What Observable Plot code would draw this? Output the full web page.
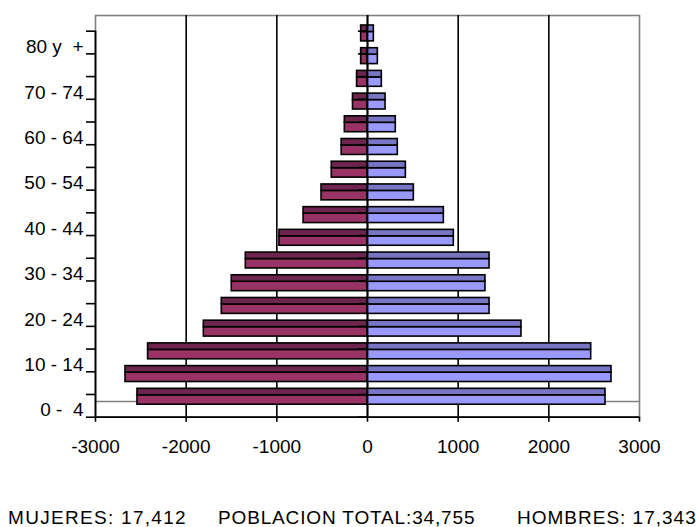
<!DOCTYPE html>
<html>
<head>
<meta charset="utf-8">
<script src="https://cdn.jsdelivr.net/npm/d3@7"></script>
<script src="https://cdn.jsdelivr.net/npm/@observablehq/plot@0.6"></script>
<style>
  body { margin: 0; background: #fff; font-family: "Liberation Sans", Arial, sans-serif; }
  #wrap { width: 696px; height: 527px; position: relative; overflow: hidden; }
  #foot { position: absolute; left: 0; top: 0; width: 696px; height: 527px; pointer-events: none; }
  #foot span { position: absolute; top: 507px; font-size: 19px; color: #000; white-space: pre; }
  svg text { white-space: pre; }
</style>
</head>
<body>
<div id="wrap"><div id="chart"></div><div id="foot"></div></div>
<script>
// Age groups, bottom to top
const ageGroups = ["0 -  4","5 -  9","10 - 14","15 - 19","20 - 24","25 - 29","30 - 34","35 - 39",
  "40 - 44","45 - 49","50 - 54","55 - 59","60 - 64","65 - 69","70 - 74","75 - 79","80 y  +"];
// Women (MUJERES), drawn to the left
const mujeres = [2537, 2669, 2420, 1805, 1607, 1497, 1342, 971, 705, 507, 394, 285, 250, 160, 115, 70, 70];
// Men (HOMBRES), drawn to the right
const hombres = [2625, 2691, 2467, 1698, 1346, 1301, 1346, 952, 842, 511, 423, 334, 312, 199, 158, 114, 70];
const xTicks = [-3000, -2000, -1000, 0, 1000, 2000, 3000];
const gridValues = [-2000, -1000, 0, 1000, 2000];
const labelIndex = [0, 2, 4, 6, 8, 10, 12, 14, 16];
const footer = ["MUJERES: 17,412", "POBLACION TOTAL:34,755", "HOMBRES: 17,343"];

const rows = [];
ageGroups.forEach((g, i) => {
  rows.push({i, group: g, sex: "M", v: -mujeres[i]});
  rows.push({i, group: g, sex: "H", v: hombres[i]});
});
const front = {M: "#993366", H: "#9999ff"};
const top_ = {M: "#6d2550", H: "#7676c4"};

const H = 475;
const chart = Plot.plot({
  width: 696,
  height: H,
  marginLeft: 95,
  marginRight: 57,
  marginTop: 15,
  marginBottom: H - 416.7,
  style: {fontFamily: "'Liberation Sans', Arial, sans-serif", fontSize: "19px", color: "#000", background: "#fff"},
  x: {domain: [-3000, 3000], label: null},
  y: {domain: [0, 17.69], label: null},
  marks: [
    Plot.frame({stroke: "#808080", strokeWidth: 1.6}),
    Plot.ruleY([0.69], {stroke: "#808080", strokeWidth: 1.6}),
    Plot.ruleX(gridValues, {y1: 0, y2: 17.69, stroke: "#000", strokeWidth: 1.6}),
    // bar front faces
    Plot.rectX(rows, {x1: 0, x2: "v", y1: d => d.i + 0.55, y2: d => d.i + 0.965,
      fill: d => front[d.sex], stroke: "#000", strokeWidth: 1.6}),
    // bar top faces
    Plot.rectX(rows, {x1: 0, x2: "v", y1: d => d.i + 0.965, y2: d => d.i + 1.25,
      fill: d => top_[d.sex], stroke: "#000", strokeWidth: 1.6}),
    Plot.ruleX([0], {y1: 0, y2: 17.69, stroke: "#000", strokeWidth: 1.8}),
    // category boundary ticks at zero line
    Plot.ruleY(d3.range(0, 18), {x1: -100, x2: 0, stroke: "#000", strokeWidth: 1.6}),
    // left axis line and ticks
    Plot.ruleX([-3000], {y1: 0, y2: 17, stroke: "#000", strokeWidth: 1.8}),
    Plot.axisY(d3.range(0, 18), {tickSize: 9, tickFormat: () => "", stroke: "#000", strokeWidth: 1.6, label: null}),
    Plot.axisY(labelIndex.map(i => i + 0.5), {tickSize: 0, tickPadding: 12, dy: 4.5, label: null,
      tickFormat: d => ageGroups[Math.round(d - 0.5)], fontSize: 19}),
    // bottom axis
    Plot.ruleY([0], {stroke: "#000", strokeWidth: 1.8}),
    Plot.axisX(xTicks, {tickSize: 5, tickPadding: 17, stroke: "#000", strokeWidth: 1.6, label: null,
      tickFormat: d => String(d), fontSize: 19})
  ]
});
document.getElementById("chart").appendChild(chart);

const foot = document.getElementById("foot");
const lefts = [8, 218, 517];
const spacing = [1.3, 0.85, 1.0];
footer.forEach((t, k) => {
  const s = document.createElement("span");
  s.textContent = t;
  s.style.left = lefts[k] + "px";
  s.style.letterSpacing = spacing[k] + "px";
  foot.appendChild(s);
});
</script>
</body>
</html>
